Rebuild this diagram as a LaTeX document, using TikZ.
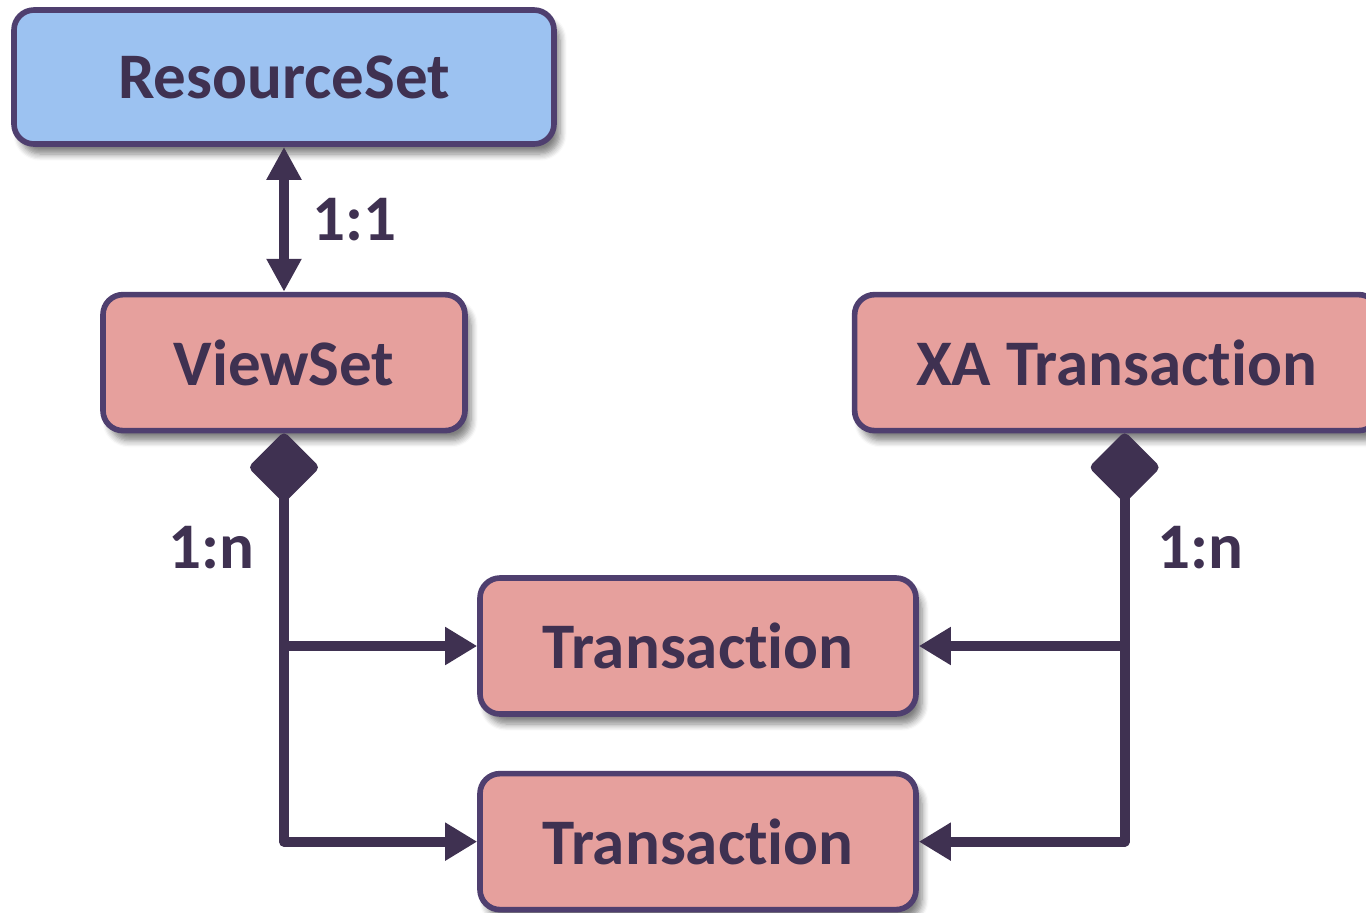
\documentclass[tikz,border=0pt]{standalone}
\usepackage{fontspec}
\setmainfont{Carlito}[Ligatures=NoCommon]
\usepackage{xcolor}
\usetikzlibrary{arrows.meta,positioning,shadows.blur}

\definecolor{ink}{HTML}{3F3151}
\definecolor{boxedge}{HTML}{4F3F6F}
\definecolor{setblue}{HTML}{9CC2F1}
\definecolor{txpink}{HTML}{E6A09D}

\begin{document}
\begin{tikzpicture}[
    node distance=1.45cm and 3.84cm,
    entity/.style={draw=boxedge, line width=1.6pt, rounded corners=0.2cm, minimum height=1.36cm, font=\fontsize{18.5}{22}\selectfont\bfseries, text=ink, blur shadow={shadow xshift=0.6mm, shadow yshift=-1mm, shadow blur steps=6, shadow opacity=50}},
    conn/.style={line width=0.1cm, draw=ink, line join=round},
    arr/.style={conn, -{Triangle[length=0.32cm, width=0.36cm]}},
    comp/.style={conn, {Diamond[length=0.72cm, width=0.72cm, round]}-{Triangle[length=0.32cm, width=0.36cm]}},
    lbl/.style={font=\fontsize{18.5}{22}\selectfont\bfseries, text=ink}
]
    \useasboundingbox (0,0) rectangle (13.66,-9.12);
    % Sets on the left, XA transaction on the right
    \node[entity, fill=setblue, minimum width=5.4cm, minimum height=1.34cm] (rs) at (2.84,-0.77) {ResourceSet};
    \node[entity, fill=txpink, minimum width=3.62cm, below=1.45cm of rs] (vs) {ViewSet};
    \node[entity, fill=txpink, minimum width=5.24cm, right=3.84cm of vs] (xa) {XA Transaction};
    % Shared transactions in the middle
    \node[entity, fill=txpink, minimum width=4.36cm] (t1) at (6.98,-6.46) {Transaction};
    \node[entity, fill=txpink, minimum width=4.36cm, below=0.54cm of t1] (t2) {Transaction};

    % ResourceSet <-> ViewSet
    \draw[conn, {Triangle[length=0.33cm, width=0.33cm]}-{Triangle[length=0.33cm, width=0.33cm]}] (rs) -- node[lbl, right=0.12cm] {1:1} (vs);
    % ViewSet owns transactions
    \draw[comp] (vs.south) |- node[lbl, pos=0.14, left=0.13cm] {1:n} (t2.west);
    \draw[arr] (vs.south |- t1.west) -- (t1.west);
    % XA transaction owns transactions
    \coordinate (xtap) at ([xshift=0.08cm]xa.south);
    \draw[comp] (xtap) |- node[lbl, pos=0.14, right=0.16cm] {1:n} (t2.east);
    \draw[arr] (xtap |- t1.east) -- (t1.east);
\end{tikzpicture}
\end{document}
